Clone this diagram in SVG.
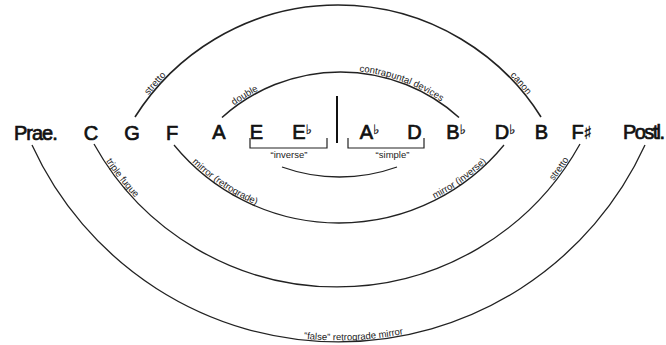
<svg xmlns="http://www.w3.org/2000/svg" xmlns:xlink="http://www.w3.org/1999/xlink" width="666" height="345" viewBox="0 0 666 345">
<style>
.n{font-family:"Liberation Sans","DejaVu Sans",sans-serif;font-size:20px;fill:#111;stroke:#111;stroke-width:0.7}
.acc{font-family:"DejaVu Sans",sans-serif;stroke-width:0.3}
.arc{fill:none;stroke:#222;stroke-width:1.3}
.up{stroke-width:1.6}
.br{fill:none;stroke:#222;stroke-width:1.2}
.lb{font-family:"Liberation Sans","DejaVu Sans",sans-serif;font-size:9.5px;fill:#222}
</style>
<rect width="666" height="345" fill="#fff"/>
<g id="connectors">
<path id="pStretto" class="arc up" d="M135,117 A240,240 0 0 1 541,117"/>
<path id="pDouble" class="arc up" d="M222,117.5 A177,177 0 0 1 459,117.5"/>
<path id="pSmall" class="arc" d="M282,167 A170,170 0 0 0 397,167"/>
<path id="pMirror" class="arc" d="M174,145 A213.5,213.5 0 0 0 504,145"/>
<path id="pTriple" class="arc" d="M94,144 A278,278 0 0 0 580,144"/>
<path id="pFalse" class="arc" d="M32,145 A337,337 0 0 0 645,145"/>
<text class="lb" text-anchor="middle" dy="-1.5"><textPath href="#pStretto" xlink:href="#pStretto" startOffset="8%">stretto</textPath></text>
<text class="lb" text-anchor="middle" dy="-1.5"><textPath href="#pStretto" xlink:href="#pStretto" startOffset="92%">canon</textPath></text>
<text class="lb" text-anchor="middle" dy="-1.5"><textPath href="#pDouble" xlink:href="#pDouble" startOffset="12%">double</textPath></text>
<text class="lb" text-anchor="middle" dy="-1.5"><textPath href="#pDouble" xlink:href="#pDouble" startOffset="74%">contrapuntal devices</textPath></text>
<text class="lb" text-anchor="middle" dy="-1.5"><textPath href="#pTriple" xlink:href="#pTriple" startOffset="7.5%">triple fugue</textPath></text>
<text class="lb" text-anchor="middle" dy="-1.5"><textPath href="#pTriple" xlink:href="#pTriple" startOffset="94.5%">stretto</textPath></text>
<text class="lb" text-anchor="middle" dy="-1.5"><textPath href="#pMirror" xlink:href="#pMirror" startOffset="17%">mirror (retrograde)</textPath></text>
<text class="lb" text-anchor="middle" dy="-1.5"><textPath href="#pMirror" xlink:href="#pMirror" startOffset="85%">mirror (inverse)</textPath></text>
<text class="lb" text-anchor="middle" dy="-1.5"><textPath href="#pFalse" xlink:href="#pFalse" startOffset="52%">“false” retrograde mirror</textPath></text>
</g>
<g id="divider"><line x1="337" y1="96" x2="337" y2="143" stroke="#111" stroke-width="2"/></g>
<g id="inverse">
<path class="br" d="M250,138 V148 H327 V138"/>
<text class="lb" x="289" y="158" text-anchor="middle">“inverse”</text>
</g>
<g id="simple">
<path class="br" d="M348,138 V148 H424 V138"/>
<text class="lb" x="392.5" y="158" text-anchor="middle">“simple”</text>
</g>
<g id="prae"><text class="n" x="14" y="139.5" letter-spacing="-1">Prae.</text></g>
<g id="C"><text class="n" x="91" y="139.5" text-anchor="middle">C</text></g>
<g id="G"><text class="n" x="132" y="139.5" text-anchor="middle">G</text></g>
<g id="F"><text class="n" x="172" y="139.5" text-anchor="middle">F</text></g>
<g id="A"><text class="n" x="219" y="139" text-anchor="middle">A</text></g>
<g id="E"><text class="n" x="256.5" y="139" text-anchor="middle">E</text></g>
<g id="Eb"><text class="n" x="292.3" y="139">E<tspan class="acc" font-size="13" dy="-5">♭</tspan></text></g>
<g id="Ab"><text class="n" x="359.8" y="139">A<tspan class="acc" font-size="13" dy="-5">♭</tspan></text></g>
<g id="D"><text class="n" x="414.5" y="139" text-anchor="middle">D</text></g>
<g id="Bb"><text class="n" x="446.3" y="138.5">B<tspan class="acc" font-size="13" dy="-5">♭</tspan></text></g>
<g id="Db"><text class="n" x="494.8" y="138.5">D<tspan class="acc" font-size="13" dy="-5">♭</tspan></text></g>
<g id="B"><text class="n" x="541.5" y="138.5" text-anchor="middle">B</text></g>
<g id="Fs"><text class="n" x="571.4" y="138.5">F<tspan class="acc" font-size="18">♯</tspan></text></g>
<g id="postl"><text class="n" x="623" y="138.5" letter-spacing="-1.6">Postl.</text></g>
</svg>
